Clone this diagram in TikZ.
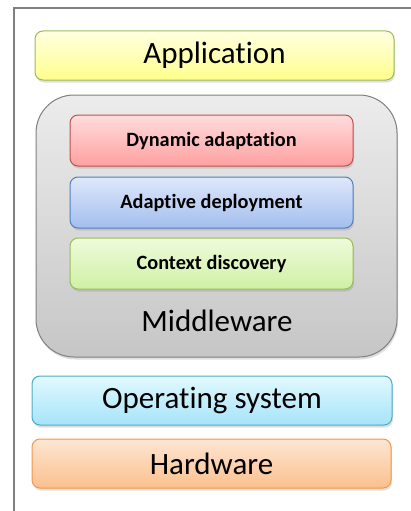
\documentclass[tikz,border=0pt]{standalone}
\usepackage{fontspec}
\setmainfont[Ligatures={NoCommon}]{Carlito}
\usetikzlibrary{shadows}
\definecolor{framegray}{HTML}{7F7F7F}
\tikzset{
  layer/.style={draw, line width=1pt, rounded corners=8pt, inner sep=0pt,
    font=\fontsize{31}{34}\selectfont,
    drop shadow={shadow xshift=1pt, shadow yshift=-2.5pt, opacity=0.25}},
  sublayer/.style={layer, font=\fontsize{20.3}{23}\selectfont\bfseries},
}
\begin{document}
\begin{tikzpicture}[x=1pt,y=-1pt]
\useasboundingbox (0,0) rectangle (410,511);
\draw[framegray, line width=2pt] (13.5,512) -- (13.5,8.5) -- (411,8.5);
\node[layer, draw={rgb,255:red,155;green,187;blue,89}, top color={rgb,255:red,255;green,255;blue,225}, bottom color={rgb,255:red,255;green,255;blue,140},
  minimum width=359pt, minimum height=49pt] (app) at (214.5,55.5) {Application};
\node[layer, rounded corners=38pt, draw={rgb,255:red,128;green,128;blue,128}, top color={rgb,255:red,236;green,236;blue,236}, bottom color={rgb,255:red,198;green,198;blue,198},
  minimum width=361pt, minimum height=262pt] (mw) at (216.5,226) {};
\node[font=\fontsize{31}{34}\selectfont] (mwlabel) at (217,321) {Middleware};
\node[sublayer, draw={rgb,255:red,192;green,80;blue,77}, top color={rgb,255:red,255;green,220;blue,220}, bottom color={rgb,255:red,255;green,160;blue,160},
  minimum width=283pt, minimum height=51pt] (dyn) at (211.5,140.5) {Dynamic adaptation};
\node[sublayer, draw={rgb,255:red,79;green,129;blue,189}, top color={rgb,255:red,222;green,232;blue,250}, bottom color={rgb,255:red,163;green,190;blue,238},
  minimum width=283pt, minimum height=51pt] (dep) at (211.5,202.5) {Adaptive deployment};
\node[sublayer, draw={rgb,255:red,155;green,187;blue,89}, top color={rgb,255:red,238;green,251;blue,220}, bottom color={rgb,255:red,208;green,240;blue,165},
  minimum width=283pt, minimum height=51pt] (ctx) at (211.5,263.5) {Context discovery};
\node[layer, draw={rgb,255:red,75;green,172;blue,198}, top color={rgb,255:red,226;green,249;blue,254}, bottom color={rgb,255:red,165;green,228;blue,249},
  minimum width=360pt, minimum height=49pt] (os) at (212,400.5) {Operating system};
\node[layer, draw={rgb,255:red,247;green,150;blue,70}, top color={rgb,255:red,253;green,230;blue,212}, bottom color={rgb,255:red,251;green,192;blue,140},
  minimum width=359pt, minimum height=49pt] (hw) at (211.5,463.5) {Hardware};
\end{tikzpicture}
\end{document}
